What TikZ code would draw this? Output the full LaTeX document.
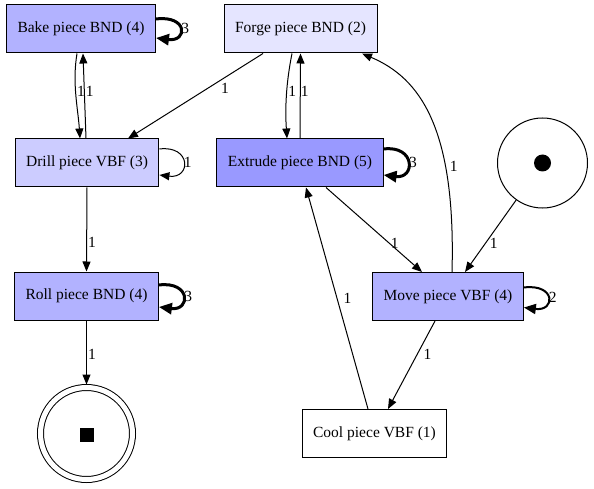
\documentclass[tikz,border=0pt]{standalone}
\usepackage{fontspec}
\setmainfont{Liberation Serif}
\usetikzlibrary{arrows.meta}

\begin{document}
\begin{tikzpicture}[
        x=1pt, y=1pt,
        line width=1pt,
        font=\fontsize{15.5}{18}\selectfont
    ]
    \tikzset{
        mynode/.style = {rectangle, draw=black, align=center, fill=white, minimum height=48pt, inner xsep=11pt, inner ysep=0pt},
        mynodea/.style = {mynode, fill=blue!10},
        mynodeb/.style = {mynode, fill=blue!20},
        mynodec/.style = {mynode, fill=blue!30},
        mynoded/.style = {mynode, fill=blue!40},
        myplace/.style = {circle, draw=black, fill=white, inner sep=0pt},
        mylbl/.style = {inner sep=1pt},
        edgen/.style = {-{Triangle[length=10pt,width=8pt]}},
        edgem/.style = {line width=2pt, -{Triangle[length=12pt,width=10pt]}},
        edget/.style = {line width=3pt, -{Triangle[length=13pt,width=11pt]}},
    }
    \useasboundingbox (0,0) rectangle (594,488);
    \node[mynodec] at (81,459) (bake) {Bake piece BND (4)};
    \node[mynodea] at (300.5,459) (forge) {Forge piece BND (2)};
    \node[mynodeb] at (87,325) (drill) {Drill piece VBF (3)};
    \node[mynoded] at (300,325) (extrude) {Extrude piece BND (5)};
    \node[mynodec] at (86.5,192) (roll) {Roll piece BND (4)};
    \node[mynodec] at (448,191.5) (move) {Move piece VBF (4)};
    \node[mynode] at (374.5,54.5) (cool) {Cool piece VBF (1)};
    \node[myplace, minimum size=90pt] at (542.5,325) (start) {};
    \node[circle, fill=black, inner sep=0pt, minimum size=17pt] at (start) (startmark) {};
    \node[myplace, minimum size=92pt, double, double distance=5pt, outer sep=3pt] at (86.5,54.5) (end) {};
    \node[rectangle, fill=black, inner sep=0pt, minimum size=14pt] at (87,53) (endmark) {};
    %
    \draw[edgen] ([xshift=-4pt]bake.south) .. controls +(-5,-30) and +(-2,30) .. ([xshift=-7pt]drill.north)
        node[mylbl, pos=.45, right] {1};
    \draw[edgen] ([xshift=-1pt]drill.north) -- ([xshift=2pt]bake.south)
        node[mylbl, pos=.55, right] {1};
    \draw[edgen] ([xshift=-37.5pt]forge.south) -- ([xshift=41pt]drill.north)
        node[mylbl, pos=.41, right=12pt] {1};
    \draw[edgen] ([xshift=-8.5pt]forge.south) .. controls +(-6,-30) and +(-2,30) .. ([xshift=-13pt]extrude.north)
        node[mylbl, pos=.45, right] {1};
    \draw[edgen] (extrude.north) -- (forge.south)
        node[inner sep=0pt, pos=.55, right] {1};
    %
    \draw[edgen] ([xshift=4pt]move.north) .. controls (456,360) and (420,410) .. ([xshift=61.5pt]forge.south)
        node[mylbl, pos=.3, right=3pt] {1};
    \draw[edgen] ([xshift=26pt]extrude.south) -- ([xshift=-26pt]move.north)
        node[mylbl, pos=.66, right] {1};
    \draw[edgen] (start) -- ([xshift=17pt]move.north)
        node[mylbl, pos=.6, right=3pt] {1};
    \draw[edgen] ([xshift=-6.5pt]cool.north) -- ([xshift=6pt]extrude.south)
        node[mylbl, pos=.5, right=5pt] {1};
    \draw[edgen] ([xshift=-13pt]move.south) -- ([xshift=13.5pt]cool.north)
        node[mylbl, pos=.38, right=5pt] {1};
    %
    \draw[edgen] (drill.south) -- (roll.north)
        node[mylbl, pos=.65, right] {1};
    \draw[edgen] (roll.south) -- (end)
        node[mylbl, pos=.53, right] {1};
    %
    \draw[edget] ([yshift=10pt]bake.east) .. controls +(32,4) and +(32,-4) .. ([yshift=-9pt]bake.east)
        node[pos=.5, right, inner sep=0pt] {3};
    \draw[edgen] ([yshift=14pt]drill.east) .. controls +(32,4) and +(32,-4) .. ([yshift=-12pt]drill.east)
        node[pos=.5, right, inner sep=0pt] {1};
    \draw[edget] ([yshift=14pt]extrude.east) .. controls +(32,4) and +(32,-4) .. ([yshift=-12pt]extrude.east)
        node[pos=.5, right, inner sep=0pt] {3};
    \draw[edget] ([yshift=11pt]roll.east) .. controls +(32,4) and +(32,-4) .. ([yshift=-11pt]roll.east)
        node[pos=.5, right, inner sep=0pt] {3};
    \draw[edgem] ([yshift=9pt]move.east) .. controls +(32,4) and +(32,-4) .. ([yshift=-11pt]move.east)
        node[pos=.5, right, inner sep=0pt] {2};
\end{tikzpicture}
\end{document}
